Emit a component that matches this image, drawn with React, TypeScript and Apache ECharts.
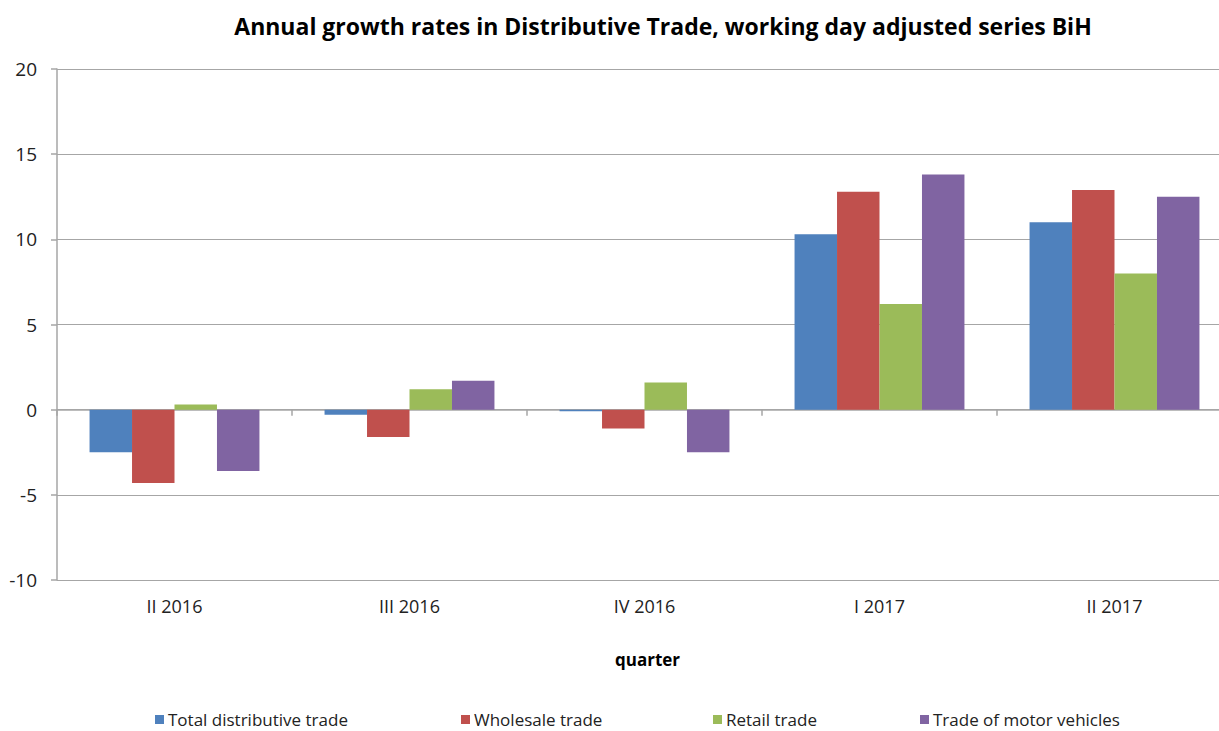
import React, { useEffect, useRef } from "react";
import * as echarts from "echarts";

const categories = ["II 2016", "III 2016", "IV 2016", "I 2017", "II 2017"];
const totalTrade = [-2.5, -0.3, -0.1, 10.3, 11.0];
const wholesaleTrade = [-4.3, -1.6, -1.1, 12.8, 12.9];
const retailTrade = [0.3, 1.2, 1.6, 6.2, 8.0];
const motorTrade = [-3.6, 1.7, -2.5, 13.8, 12.5];
const seriesNames = ["Total distributive trade", "Wholesale trade", "Retail trade", "Trade of motor vehicles"];
const colors = ["#4F81BD", "#C0504D", "#9BBB59", "#8064A2"];
const legendLefts = [155, 461, 713, 920];

const FONT = "'Open Sans', 'Noto Sans', sans-serif";

export default function App() {
  const ref = useRef<HTMLDivElement>(null);
  useEffect(() => {
    document.body.style.margin = "0";
    document.body.style.overflow = "hidden";
    document.documentElement.style.overflow = "hidden";
    const chart = echarts.init(ref.current!, null, { renderer: "svg" });
    const values = [totalTrade, wholesaleTrade, retailTrade, motorTrade];
    chart.setOption({
      animation: false,
      backgroundColor: "#ffffff",
      title: {
        text: "Annual growth rates in Distributive Trade, working day adjusted series BiH",
        left: 658,
        textAlign: "center",
        top: 9,
        textStyle: { fontFamily: FONT, fontSize: 23, fontWeight: "bold", color: "#000" },
      },
      grid: { left: 57, top: 69, right: 0, height: 511, containLabel: false },
      legend: seriesNames.map((n, i) => ({
        data: [n],
        left: legendLefts[i],
        top: 711,
        itemWidth: 9,
        itemHeight: 9,
        itemGap: 0,
        padding: 0,
        icon: "rect",
        textStyle: { fontFamily: FONT, fontSize: 17, color: "#222", padding: [0, 0, 0, -1] },
      })),
      xAxis: [
        {
          type: "category",
          data: categories,
          position: "bottom",
          axisLine: { show: false, onZero: false },
          axisTick: { show: false },
          axisLabel: { fontFamily: FONT, fontSize: 18, color: "#222", margin: 17 },
        },
        {
          type: "category",
          data: categories,
          position: "bottom",
          axisLine: { show: true, onZero: true, lineStyle: { color: "#a6a6a6", width: 1.5 } },
          axisTick: { show: true, length: 6, lineStyle: { color: "#a6a6a6", width: 1.5 } },
          axisLabel: { show: false },
        },
      ],
      yAxis: {
        type: "value",
        min: -10,
        max: 20,
        interval: 5,
        axisLine: { show: true, lineStyle: { color: "#a6a6a6", width: 1.5 } },
        axisTick: { show: true, length: 6, lineStyle: { color: "#a6a6a6", width: 1.5 } },
        splitLine: { show: true, lineStyle: { color: "#a6a6a6", width: 1.2 } },
        axisLabel: { fontFamily: FONT, fontSize: 19, color: "#222", margin: 20 },
      },
      graphic: [
        {
          type: "text",
          left: 615,
          top: 651,
          style: { text: "quarter", fontFamily: FONT, fontSize: 17, fontWeight: "bold", fill: "#000" },
        },
      ],
      series: seriesNames.map((n, i) => ({
        name: n,
        type: "bar",
        xAxisIndex: 0,
        data: values[i],
        barGap: "0%",
        barCategoryGap: "27.7%",
        itemStyle: { color: colors[i] },
      })),
    });
    return () => chart.dispose();
  }, []);
  return <div ref={ref} style={{ width: 1232, height: 731 }} />;
}
